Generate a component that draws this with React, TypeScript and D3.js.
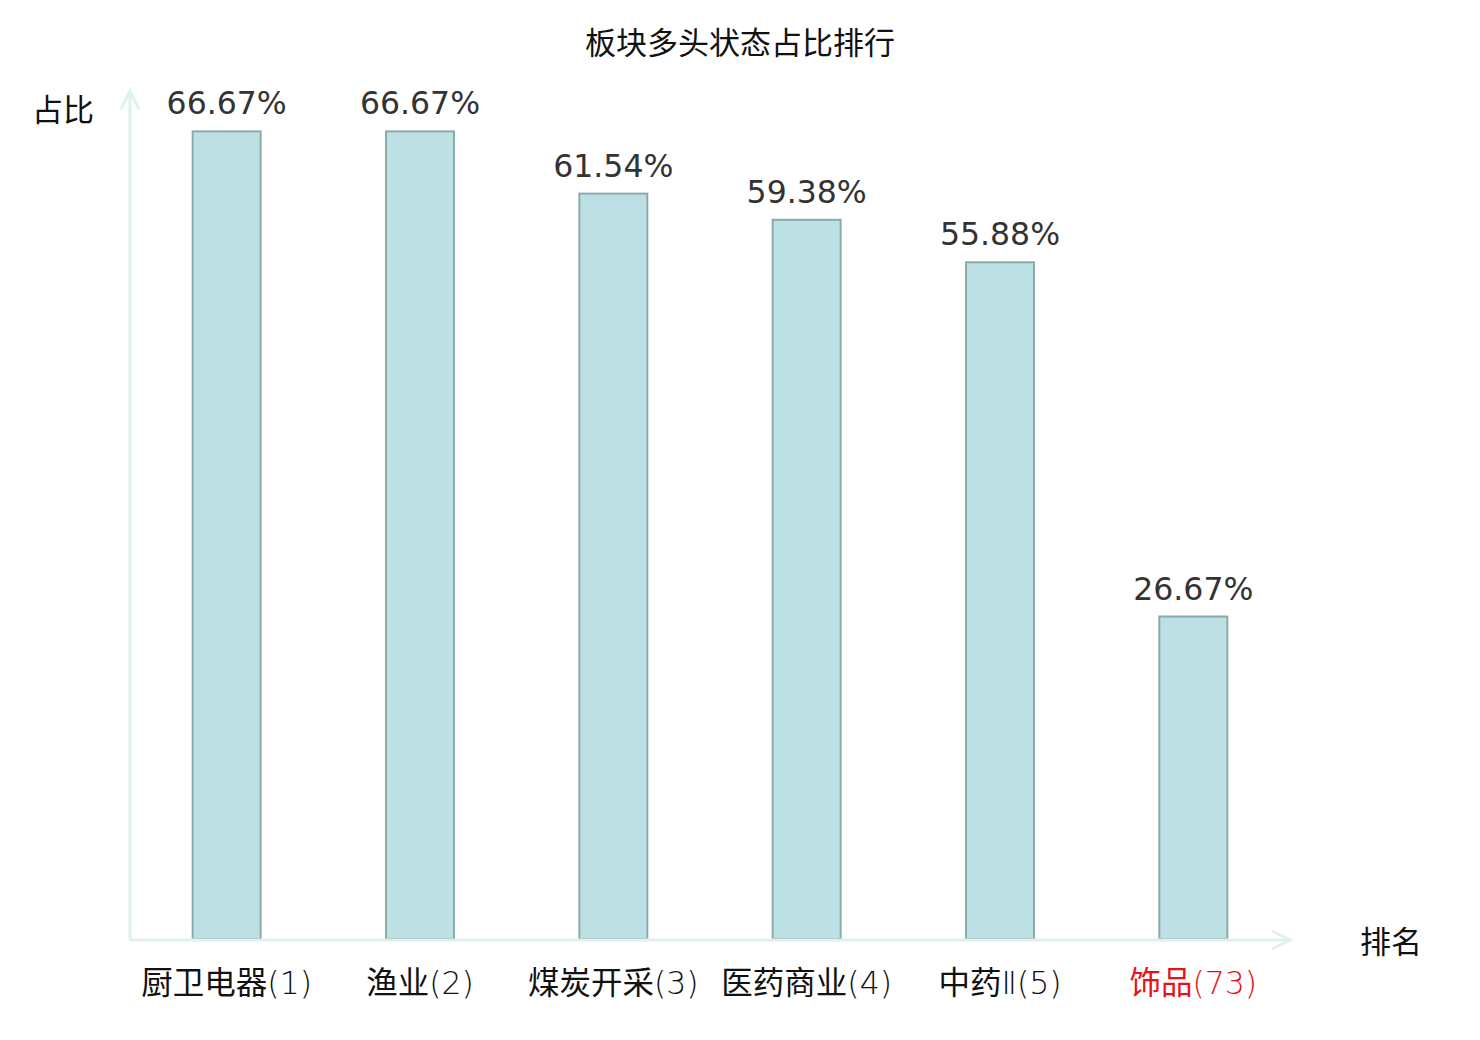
import React from "react";
import * as d3 from "d3";

const categories = ["厨卫电器(1)", "渔业(2)", "煤炭开采(3)", "医药商业(4)", "中药Ⅱ(5)", "饰品(73)"];
const values = [66.67, 66.67, 61.54, 59.38, 55.88, 26.67];
const highlight = [false, false, false, false, false, true];
const title = "板块多头状态占比排行";
const yName = "占比";
const xName = "排名";

const W = 1480;
const H = 1040;
const NUM_FONT = "'DejaVu Sans', 'Noto Sans CJK SC', sans-serif";
const CJK_FONT = "'Noto Sans CJK SC', sans-serif";
const LABEL_FONT = "'DejaVu Sans', 'Noto Sans CJK SC', sans-serif";

function splitLabel(s: string): { text: string; cjk: boolean }[] {
  const parts: { text: string; cjk: boolean }[] = [];
  for (const ch of s) {
    const cjk = /[\u4e00-\u9fff]/.test(ch);
    const last = parts[parts.length - 1];
    if (last && last.cjk === cjk) last.text += ch;
    else parts.push({ text: ch, cjk });
  }
  return parts;
}

export default function App() {
  const x0 = 130, x1 = 1290, yBase = 940, yTop = 91;
  const x = d3.scaleBand<string>().domain(categories).range([x0, x1]).paddingInner(0).paddingOuter(0);
  const y = d3.scaleLinear().domain([0, 70]).range([yBase, yTop]);
  const bw = 68;
  const axisColor = "#dff1ef";
  return (
    <svg width={W} height={H} style={{ position: "absolute", left: 0, top: 0, background: "#fff" }}>
      <text x={740} y={54} textAnchor="middle" fontSize={31} fill="#111" fontFamily={CJK_FONT}>{title}</text>
      <text x={63} y={121} textAnchor="middle" fontSize={31} fill="#111" fontFamily={CJK_FONT}>{yName}</text>
      <text x={1391} y={953} textAnchor="middle" fontSize={31} fill="#111" fontFamily={CJK_FONT}>{xName}</text>
      {categories.map((c, i) => {
        const cx = (x(c) as number) + x.bandwidth() / 2;
        const top = y(values[i]);
        return (
          <g key={c}>
            <rect x={cx - bw / 2} y={top} width={bw} height={yBase - 1 - top} fill="#bce0e3" stroke="#8aabab" strokeWidth={2} />
            <text x={cx} y={top - 17} textAnchor="middle" fontSize={31.5} fill="#333" fontFamily={NUM_FONT}>{values[i].toFixed(2)}%</text>
            <text x={cx} y={994} textAnchor="middle" fontSize={31.5} fill={highlight[i] ? "#e8121a" : "#111"} fontFamily={LABEL_FONT}>
              {splitLabel(c).map((p, j) => (
                <tspan key={j} fontWeight={p.cjk ? 400 : 200} fontFamily={p.cjk ? CJK_FONT : LABEL_FONT}>{p.text}</tspan>
              ))}
            </text>
          </g>
        );
      })}
      <line x1={x0} y1={yBase} x2={x1} y2={yBase} stroke={axisColor} strokeWidth={3} />
      <line x1={x0} y1={yBase} x2={x0} y2={yTop} stroke={axisColor} strokeWidth={3} />
      <polyline points={`${x1 - 18},${yBase - 9} ${x1},${yBase} ${x1 - 18},${yBase + 9}`} fill="none" stroke={axisColor} strokeWidth={3} />
      <polyline points={`${x0 - 9},${yTop + 18} ${x0},${yTop} ${x0 + 9},${yTop + 18}`} fill="none" stroke={axisColor} strokeWidth={3} />
    </svg>
  );
}
